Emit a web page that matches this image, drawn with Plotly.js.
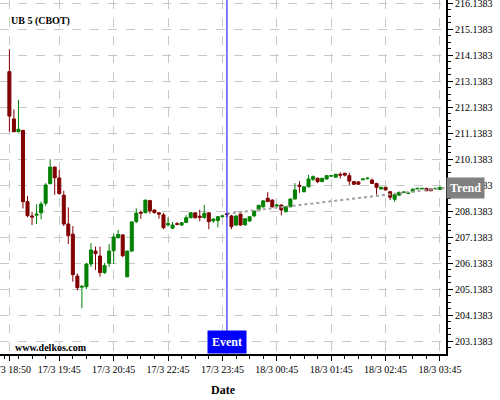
<!DOCTYPE html>
<html>
<head>
<meta charset="utf-8">
<script src="https://cdn.plot.ly/plotly-3.0.1.min.js"></script>
<style>html,body{margin:0;padding:0;background:#fff;}#chart{width:500px;height:400px;}</style>
</head>
<body>
<div id="chart"></div>
<script>
// Candle index (5-minute bars, gaps in trading time skipped)
const candleIndex = [
  0,1,2,3,4,5,6,7,8,9,10,11,12,13,14,15,16,17,18,19,
  20,21,22,23,24,25,26,27,28,29,30,31,32,33,34,35,36,37,38,39,
  40,41,42,43,44,45,46,47,48,49,50,51,52,53,54,55,56,57,58,59,
  60,61,62,63,64,65,66,67,68,69,70,71,72,73,74,75,76,77,78,79,
  80,81,82,83,84,85,86,87,88,89,90,91,92,93,94,95
];
const openVals = [
  213.51,211.69,211.20,211.25,208.51,207.96,207.99,208.08,208.45,209.20,
  209.84,209.42,208.76,207.65,207.26,205.65,205.22,205.24,206.11,206.61,
  206.42,205.78,206.14,206.62,207.12,207.23,205.62,206.61,207.74,208.10,
  208.09,208.55,208.19,208.08,208.00,207.62,207.49,207.66,207.61,207.71,
  207.89,208.08,207.95,207.90,208.08,207.77,207.78,207.93,208.04,207.96,
  207.61,208.03,207.62,207.77,207.96,208.20,208.31,208.64,208.57,208.34,
  208.38,208.12,208.31,208.61,209.14,208.89,209.08,209.37,209.41,209.28,
  209.38,209.49,209.45,209.56,209.60,209.51,209.28,209.27,209.35,209.39,
  209.34,209.21,209.00,209.06,208.89,208.60,208.76,208.86,208.82,208.89,
  209.00,209.00,209.02,209.00,209.00,208.98
];
const highVals = [
  214.37,212.06,212.42,211.27,208.73,208.12,208.41,208.51,209.22,210.14,
  209.86,209.73,208.93,208.29,207.57,205.75,205.30,206.15,206.91,206.78,
  206.78,206.15,206.88,207.29,207.42,207.25,206.61,207.76,208.25,208.17,
  208.58,208.58,208.20,208.09,208.08,207.90,207.73,207.72,207.72,207.99,
  208.10,208.10,208.20,208.38,208.10,207.88,207.95,208.00,208.06,208.00,
  207.98,208.05,207.88,207.95,208.17,208.38,208.56,208.87,208.60,208.40,
  208.40,208.33,208.63,209.22,209.30,209.10,209.54,209.52,209.43,209.42,
  209.53,209.53,209.58,209.64,209.62,209.62,209.30,209.29,209.39,209.44,
  209.40,209.23,209.08,209.08,208.92,208.80,208.89,208.89,208.86,209.01,
  209.04,209.04,209.04,209.02,209.04,209.08
];
const lowVals = [
  211.20,211.18,211.18,208.25,207.91,207.61,207.65,207.83,208.35,209.18,
  208.77,208.78,207.57,206.88,205.43,205.10,204.41,205.15,206.00,205.88,
  205.62,205.73,206.00,206.11,207.10,206.37,205.60,206.58,207.68,207.85,
  208.05,208.05,208.05,207.85,207.45,207.55,207.45,207.60,207.58,207.70,
  207.87,207.86,207.75,207.85,207.45,207.70,207.52,207.90,207.90,207.45,
  207.58,207.58,207.58,207.72,207.93,208.15,208.28,208.50,208.28,208.30,
  207.98,208.10,208.30,208.60,208.85,208.87,209.06,209.30,209.22,209.26,
  209.36,209.47,209.43,209.40,209.48,209.15,209.15,209.15,209.34,209.37,
  209.19,208.78,208.98,208.94,208.57,208.50,208.74,208.84,208.80,208.87,
  208.99,208.99,208.91,208.91,208.99,208.96
];
const closeVals = [
  211.80,211.20,211.29,208.51,207.97,207.92,208.03,208.42,209.15,209.84,
  209.43,208.82,207.65,207.20,205.70,205.20,205.25,206.11,206.65,206.51,
  205.78,206.05,206.61,207.15,207.25,206.43,206.61,207.73,208.07,208.07,
  208.57,208.16,208.09,208.03,207.51,207.66,207.61,207.64,207.70,207.89,
  208.08,207.89,207.91,208.06,207.74,207.84,207.93,207.96,208.02,207.55,
  207.96,207.61,207.85,207.93,208.15,208.37,208.54,208.51,208.31,208.38,
  208.19,208.31,208.61,208.96,209.10,209.08,209.38,209.47,209.28,209.41,
  209.51,209.51,209.56,209.53,209.53,209.30,209.18,209.18,209.38,209.41,
  209.21,209.06,209.06,208.96,208.68,208.78,208.87,208.88,208.84,208.99,
  209.02,209.02,208.93,208.93,209.02,209.06
];
// Axis labels
const tickIndex = [0, 11, 23, 35, 47, 59, 71, 83, 95];
const tickLabels = ['17/3 18:50','17/3 19:45','17/3 20:45','17/3 22:45','17/3 23:45',
                    '18/3 00:45','18/3 01:45','18/3 02:45','18/3 03:45'];
// Event and trend
const eventIndex = 48;
const trendIndex = [48, 97];
const trendVals = [208.05, 209.06];
const chartTitle = 'UB 5 (CBOT)';
const watermark = 'www.delkos.com';

const serif = 'Liberation Serif, Times New Roman, serif';

const traces = [
  {
    type: 'candlestick',
    x: candleIndex, open: openVals, high: highVals, low: lowVals, close: closeVals,
    increasing: {line: {color: '#008000', width: 1}, fillcolor: '#008000'},
    decreasing: {line: {color: '#800000', width: 1}, fillcolor: '#800000'},
    whiskerwidth: 0,
    showlegend: false,
    hoverinfo: 'skip'
  },
  {
    type: 'scatter', mode: 'lines',
    x: trendIndex, y: trendVals,
    line: {color: '#a0a0a0', width: 2, dash: 'dot'},
    showlegend: false, hoverinfo: 'skip'
  }
];

const layout = {
  width: 500, height: 400,
  margin: {l: 0, r: 54, t: 0, b: 46},
  paper_bgcolor: '#ffffff', plot_bgcolor: '#ffffff',
  boxgap: 0.05,
  showlegend: false,
  font: {family: serif, size: 10, color: '#000'},
  xaxis: {
    type: 'linear',
    range: [-2.07, 96.33],
    rangeslider: {visible: false},
    tickmode: 'array', tickvals: tickIndex, ticktext: tickLabels,
    ticklabeloverflow: 'allow',
    ticks: 'outside', ticklen: 5, tickcolor: '#000', tickwidth: 1,
    minor: {tickmode: 'linear', tick0: 2, dtick: 3, ticks: 'outside', ticklen: 3, tickcolor: '#000', showgrid: false},
    showgrid: true, gridcolor: '#c8c8c8', griddash: 'dash', gridwidth: 1,
    showline: true, linecolor: '#000', linewidth: 2,
    zeroline: false,
    tickfont: {family: serif, size: 10, color: '#000'},
    title: {text: '<b>Date</b>', font: {family: serif, size: 12, color: '#000'}, standoff: 12},
    fixedrange: true
  },
  yaxis: {
    side: 'right',
    range: [202.65, 216.265],
    tickmode: 'linear', tick0: 0.1383, dtick: 1, tickformat: '.4f',
    ticklabeloverflow: 'allow',
    ticks: 'outside', ticklen: 5, tickcolor: '#000', tickwidth: 1,
    minor: {tickmode: 'linear', tick0: 0.1383, dtick: 0.25, ticks: 'outside', ticklen: 3, tickcolor: '#000', showgrid: false},
    showgrid: true, gridcolor: '#c8c8c8', griddash: 'dash', gridwidth: 1,
    showline: true, linecolor: '#000', linewidth: 2,
    zeroline: false,
    tickfont: {family: serif, size: 10, color: '#000'},
    fixedrange: true
  },
  shapes: [
    {type: 'line', xref: 'x', yref: 'paper', x0: eventIndex, x1: eventIndex, y0: 0, y1: 1,
     line: {color: '#0000ff', width: 1}}
  ],
  annotations: [
    {xref: 'paper', yref: 'paper', x: 0, y: 0.9407, xanchor: 'left', yanchor: 'middle', xshift: 9,
     text: '<b>' + chartTitle + '</b>', showarrow: false, font: {family: serif, size: 10, color: '#000'}},
    {xref: 'paper', yref: 'paper', x: 0, y: 0.017, xanchor: 'left', yanchor: 'middle', xshift: 13,
     text: '<b>' + watermark + '</b>', showarrow: false, font: {family: serif, size: 10, color: '#000'}},
    {xref: 'x', yref: 'paper', x: eventIndex, y: 0, xanchor: 'center', yanchor: 'bottom',
     text: '<b>Event</b>', showarrow: false, bgcolor: '#0000ff', borderpad: 4,
     font: {family: serif, size: 12, color: '#fff'}},
    {xref: 'paper', yref: 'y', x: 1, y: trendVals[1] - (trendVals[1]-trendVals[0])*(97-96.33)/(97-48), xanchor: 'left', yanchor: 'middle',
     text: '<b>Trend</b>', showarrow: false, bgcolor: '#808080', borderpad: 3,
     font: {family: serif, size: 12, color: '#fff'}}
  ]
};

Plotly.newPlot('chart', traces, layout, {displayModeBar: false, staticPlot: true});
</script>
</body>
</html>
